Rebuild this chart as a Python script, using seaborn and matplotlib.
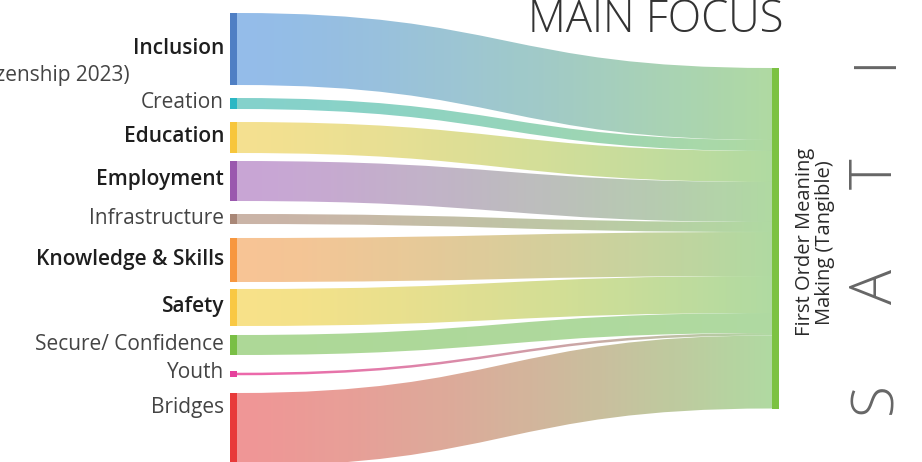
import numpy as np
import matplotlib
matplotlib.use("Agg")
import matplotlib.pyplot as plt
import seaborn as sns
from matplotlib.path import Path
from matplotlib.patches import PathPatch, Rectangle
from matplotlib.colors import to_rgb

sns.set_theme(style="white")
plt.rcParams['font.family'] = ['Open Sans', 'DejaVu Sans']

# source categories (top to bottom), flow values into the single target
categories = ["Inclusion", "Creation", "Education", "Employment", "Infrastructure",
              "Knowledge & Skills", "Safety", "Secure/ Confidence", "Youth", "Bridges"]
values = [72, 11, 31, 40, 10, 44, 37, 20, 2.5, 73]
bold_labels = ["Inclusion", "Education", "Employment", "Knowledge & Skills", "Safety"]
node_colors = ["#4f7fc4", "#2bb7c4", "#f7c63c", "#9a58ae", "#a98777",
               "#f7973f", "#f9c843", "#79bf45", "#e6409c", "#e83a3a"]
flow_colors = ["#8ab6e8", "#79cdc8", "#f4df86", "#c49dd2", "#c7ada0",
               "#f8bf8c", "#f8e07e", "#a6d58e", "#ec5aa4", "#ef8d8d"]
target_name = "First Order Meaning\nMaking (Tangible)"
target_color = "#7cc242"
target_flow_color = "#a9d79a"
side_letters = ["S", "A", "T", "I"]

W, H = 922, 462
fig = plt.figure(figsize=(W / 100, H / 100), dpi=100)
ax = fig.add_axes([0, 0, 1, 1])
ax.set_xlim(0, W)
ax.set_ylim(H, 0)
ax.axis("off")

src_x, tgt_x, node_w = 230, 772, 7
top = 13
gaps = [13, 13, 8, 13, 14, 7, 9, 16, 16]   # spacing between source nodes
tgt_top = 68
min_node = 6

# layout of source nodes
y = top
src_pos = []
for i, v in enumerate(values):
    h = max(v, min_node)
    src_pos.append((y, h))
    if i < len(gaps):
        y += h + gaps[i]

grad_n = 256
t_y = tgt_top
for i, (cat, v) in enumerate(zip(categories, values)):
    y0, h = src_pos[i]
    # flow leaves from the middle of the node
    s_top = y0 + (h - v) / 2
    s_bot = s_top + v
    e_top, e_bot = t_y, t_y + v
    t_y += v
    x0, x1 = src_x + node_w, tgt_x
    xm = (x0 + x1) / 2
    verts = [(x0, s_top), (xm, s_top), (xm, e_top), (x1, e_top),
             (x1, e_bot), (xm, e_bot), (xm, s_bot), (x0, s_bot), (x0, s_top)]
    codes = [Path.MOVETO, Path.CURVE4, Path.CURVE4, Path.CURVE4,
             Path.LINETO, Path.CURVE4, Path.CURVE4, Path.CURVE4, Path.CLOSEPOLY]
    patch = PathPatch(Path(verts, codes), facecolor="none", edgecolor="none")
    ax.add_patch(patch)
    c0, c1 = np.array(to_rgb(flow_colors[i])), np.array(to_rgb(target_flow_color))
    t = np.linspace(0, 1, grad_n)[:, None] ** 1.3
    grad = (c0 * (1 - t) + c1 * t)[None, :, :]
    im = ax.imshow(grad, extent=[x0, x1, max(s_bot, e_bot) + 2, min(s_top, e_top) - 2],
                   aspect="auto", alpha=0.92, zorder=1, interpolation="bilinear")
    im.set_clip_path(patch)
    ax.set_ylim(H, 0)
    ax.set_xlim(0, W)

    # source node
    ax.add_patch(Rectangle((src_x, y0), node_w, h, color=node_colors[i], zorder=3, lw=0))
    bold = cat in bold_labels
    # label at the node centre; a node running off the bottom gets it near its top
    label_y = y0 + h / 2 - 1 if y0 + h <= H else y0 + 15
    ax.text(src_x - 6, label_y, cat, ha="right", va="center",
            fontsize=15,
            fontweight="semibold" if bold else "normal",
            color="#1e1e1e" if bold else "#444444")

# target node
ax.add_patch(Rectangle((tgt_x, tgt_top), node_w, t_y - tgt_top, color=target_color, zorder=3, lw=0))
ax.text(tgt_x + 43, (tgt_top + t_y) / 2 + 4, target_name, rotation=90, ha="center", va="center",
        fontsize=14.5, fontweight="normal", color="#2a2a2a", linespacing=1.0)

# cut-off note at left edge and header
ax.text(130, 75, "(Citizenship 2023)", ha="right", va="center", fontsize=15,
        fontweight="normal", color="#444444")
ax.text(528, 32, "MAIN FOCUS", ha="left", va="baseline", fontsize=31.5,
        fontweight="light", color="#333333")

# vertical side word
for k, letter in enumerate(side_letters):
    ax.text(876, 398 - k * 112, letter, rotation=90, ha="center", va="center",
            fontsize=42, fontweight="light", color="#666666")

fig.savefig("out.png", dpi=100)
